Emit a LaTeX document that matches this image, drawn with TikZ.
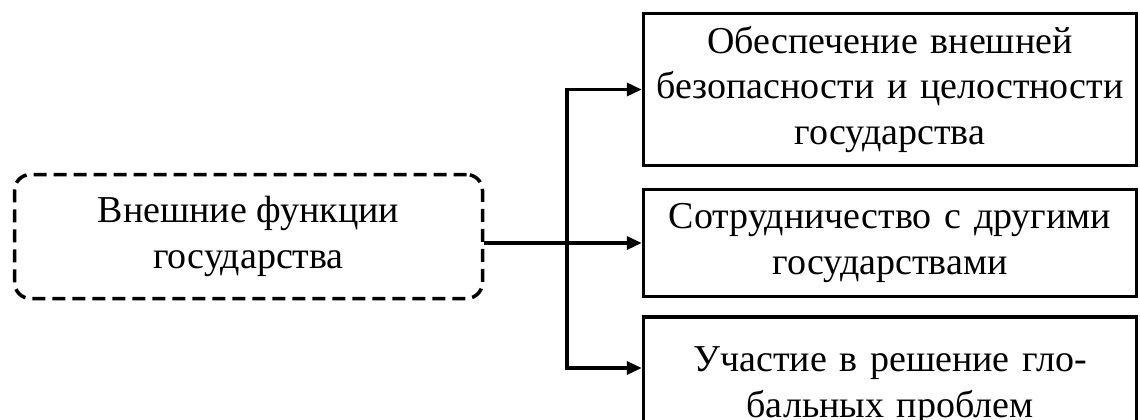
\documentclass[tikz,border=0pt]{standalone}
\usepackage{fontspec}
\setmainfont{Liberation Serif}
\usetikzlibrary{arrows.meta}

\tikzset{
	label font/.style={font=\fontsize{38}{46}\selectfont},
	funcbox/.style={draw, line width=3.5pt, minimum width=493pt, text width=480pt, align=center, inner sep=0pt, label font},
	mainbox/.style={draw, line width=3.5pt, dash pattern=on 13pt off 7pt, rounded corners=16pt, align=center, inner sep=0pt, label font},
	arr/.style={line width=3.5pt, -{Triangle[length=15pt,width=13pt]}}
}

\begin{document}
\begin{tikzpicture}[x=1pt,y=-1pt]
				\useasboundingbox (0,0) rectangle (1140,420);
				\clip (0,0) rectangle (1140,420);

				\node[mainbox, minimum width=468pt, minimum height=124pt] (outer) at (248.5,236.5) {Внешние функции\\государства};

				\node[funcbox, minimum height=152pt] (safety) at (890,89.5) {Обеспечение внешней\\безопасности и целостности\\государства};
				\node[funcbox, minimum height=107pt] (coop) at (890,243) {Сотрудничество с другими\\государствами};
				\node[funcbox, minimum height=138pt] (global) at (890,386) {Участие в решение гло-\\бальных проблем};

				\coordinate (fork) at (567,243);
				\draw[arr] (outer.east |- coop.west) -- (coop.west);
				\draw[arr] (fork) |- (safety.west);
				\draw[arr] (fork) |- ([yshift=18pt]global.west);
			\end{tikzpicture}
\end{document}
